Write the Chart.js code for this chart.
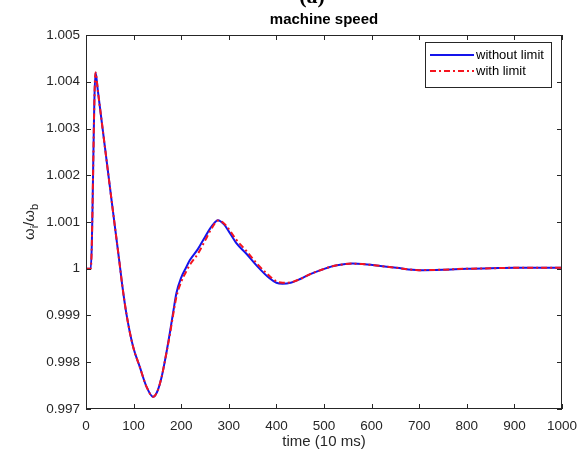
<!DOCTYPE html>
<html>
<head>
<meta charset="utf-8">
<script src="https://cdn.jsdelivr.net/npm/chart.js@4/dist/chart.umd.min.js"></script>
<style>
  html, body { margin: 0; padding: 0; background: #ffffff; }
  #wrap { width: 587px; height: 458px; position: relative; }
</style>
</head>
<body>
<div id="wrap"><canvas id="speedChart"></canvas></div>
<script>
// time axis in units of 10 ms
const timeSteps = [
  0, 10, 20, 25, 40, 55, 71, 76, 85, 99, 113, 127, 141, 150, 159, 168, 176,
  183, 190, 200, 210, 218, 235, 250, 265, 277, 290, 300, 315, 337, 360, 385,
  400, 413, 430, 450, 470, 490, 520, 545, 560, 580, 610, 652, 700, 750, 800,
  850, 900, 950, 1000,
];

const speedWithoutLimit = [
  1.0, 1.0, 1.0042, 1.0038, 1.00258, 1.00136, 1.00008, 0.99966, 0.99903,
  0.99833, 0.9979, 0.99748, 0.99726, 0.99738, 0.99769, 0.99815, 0.99862,
  0.99906, 0.99948, 0.99981, 1.00002, 1.00018, 1.00042, 1.00068, 1.00092,
  1.00104, 1.00095, 1.0008, 1.00056, 1.00032, 1.00005, 0.9998, 0.9997,
  0.99968, 0.9997, 0.99978, 0.99988, 0.99996, 1.00006, 1.0001, 1.00011,
  1.0001, 1.00007, 1.00002, 0.99997, 0.99998, 1.0, 1.00001, 1.00002, 1.00002,
  1.00002,
];

const speedWithLimit = [
  1.0, 1.0, 1.0042, 1.0038, 1.00258, 1.00136, 1.00008, 0.99966, 0.99903,
  0.99833, 0.9979, 0.99748, 0.99726, 0.99738, 0.99769, 0.99815, 0.99858,
  0.99901, 0.9994, 0.99972, 0.99993, 1.00008, 1.00032, 1.0006, 1.00088,
  1.00103, 1.00097, 1.00085, 1.00063, 1.00038, 1.0001, 0.99985, 0.99973,
  0.9997, 0.99971, 0.99978, 0.99988, 0.99996, 1.00006, 1.0001, 1.00011,
  1.0001, 1.00007, 1.00002, 0.99997, 0.99998, 1.0, 1.00001, 1.00002, 1.00002,
  1.00002,
];

const seriesNames = ["without limit", "with limit"];
const xTickValues = [0, 100, 200, 300, 400, 500, 600, 700, 800, 900, 1000];
const yTickValues = [
  0.997, 0.998, 0.999, 1.0, 1.001, 1.002, 1.003, 1.004, 1.005,
];

const axisColor = "#262626";
const tickFont = { family: "'Liberation Sans', Arial, sans-serif", size: 13.5 };

function toPoints(values) {
  return timeSteps.map((t, i) => ({ x: t, y: values[i] }));
}

const matlabFrame = {
  id: "matlabFrame",
  afterDraw(chart) {
    const { ctx, chartArea } = chart;
    const { left, right, top, bottom } = chartArea;
    const xScale = chart.scales.x;
    const yScale = chart.scales.y;

    ctx.save();
    ctx.strokeStyle = axisColor;
    ctx.lineWidth = 1;
    ctx.strokeRect(left + 0.5, top + 0.5, right - left - 1, bottom - top - 1);

    // inward ticks on all four sides
    const tickLen = 5;
    ctx.beginPath();
    xTickValues.forEach((v) => {
      const px = Math.round(xScale.getPixelForValue(v)) + 0.5;
      ctx.moveTo(px, bottom);
      ctx.lineTo(px, bottom - tickLen);
      ctx.moveTo(px, top);
      ctx.lineTo(px, top + tickLen);
    });
    yTickValues.forEach((v) => {
      const py = Math.round(yScale.getPixelForValue(v)) + 0.5;
      ctx.moveTo(left, py);
      ctx.lineTo(left + tickLen, py);
      ctx.moveTo(right, py);
      ctx.lineTo(right - tickLen, py);
    });
    ctx.stroke();

    // title and figure tag
    const midX = (left + right) / 2;
    ctx.fillStyle = "#000000";
    ctx.textAlign = "center";
    ctx.textBaseline = "alphabetic";
    ctx.font = "bold 22px 'Liberation Serif', serif";
    ctx.fillText("(a)", midX - 12, 3);
    ctx.font = "bold 15px 'Liberation Sans', Arial, sans-serif";
    ctx.fillText("machine speed", midX, 24);

    // x axis title
    ctx.fillStyle = axisColor;
    ctx.font = "15px 'Liberation Sans', Arial, sans-serif";
    ctx.textBaseline = "middle";
    ctx.fillText("time (10 ms)", midX, 442);

    // y axis title with subscripts
    ctx.save();
    ctx.translate(30, (top + bottom) / 2);
    ctx.rotate(-Math.PI / 2);
    const bigFont = "15px 'Liberation Sans', Arial, sans-serif";
    const smallFont = "11px 'Liberation Sans', Arial, sans-serif";
    const parts = [
      { text: "\u03c9", font: bigFont, dy: 0 },
      { text: "i", font: smallFont, dy: 5 },
      { text: "/\u03c9", font: bigFont, dy: 0 },
      { text: "b", font: smallFont, dy: 5 },
    ];
    let total = 0;
    parts.forEach((p) => {
      ctx.font = p.font;
      p.w = ctx.measureText(p.text).width;
      total += p.w;
    });
    let cx = -total / 2;
    ctx.textAlign = "left";
    ctx.textBaseline = "middle";
    parts.forEach((p) => {
      ctx.font = p.font;
      ctx.fillText(p.text, cx, p.dy);
      cx += p.w;
    });
    ctx.restore();

    // legend box
    const box = { x: 425, y: 42, w: 126, h: 45 };
    ctx.fillStyle = "#ffffff";
    ctx.fillRect(box.x, box.y, box.w, box.h);
    ctx.strokeStyle = axisColor;
    ctx.lineWidth = 1;
    ctx.strokeRect(box.x + 0.5, box.y + 0.5, box.w, box.h);

    const rows = [55, 71];
    chart.data.datasets.forEach((ds, i) => {
      const y = rows[i];
      ctx.beginPath();
      ctx.strokeStyle = ds.borderColor;
      ctx.lineWidth = ds.borderWidth;
      ctx.setLineDash(ds.borderDash || []);
      ctx.moveTo(430, y);
      ctx.lineTo(474, y);
      ctx.stroke();
      ctx.setLineDash([]);
      ctx.fillStyle = "#000000";
      ctx.font = "13px 'Liberation Sans', Arial, sans-serif";
      ctx.textAlign = "left";
      ctx.textBaseline = "middle";
      ctx.fillText(ds.label, 476, y);
    });
    ctx.restore();
  },
};

new Chart(document.getElementById("speedChart"), {
  type: "line",
  data: {
    datasets: [
      {
        label: seriesNames[0],
        data: toPoints(speedWithoutLimit),
        borderColor: "rgb(20,20,235)",
        borderWidth: 2,
        pointRadius: 0,
        cubicInterpolationMode: "monotone",
        order: 1,
      },
      {
        label: seriesNames[1],
        data: toPoints(speedWithLimit),
        borderColor: "rgb(245,20,30)",
        borderWidth: 2,
        borderDash: [6, 3, 2, 3],
        pointRadius: 0,
        cubicInterpolationMode: "monotone",
        order: 0,
      },
    ],
  },
  options: {
    responsive: true,
    maintainAspectRatio: false,
    animation: false,
    layout: { padding: { top: 35, right: 25, left: 0, bottom: 0 } },
    plugins: {
      legend: { display: false },
      tooltip: { enabled: false },
    },
    scales: {
      x: {
        type: "linear",
        min: 0,
        max: 1000,
        afterBuildTicks: (scale) => {
          scale.ticks = xTickValues.map((v) => ({ value: v }));
        },
        afterFit: (scale) => {
          scale.height = 49;
        },
        grid: { display: false, drawTicks: false },
        border: { display: false },
        ticks: {
          color: axisColor,
          font: tickFont,
          padding: 9,
          maxRotation: 0,
          autoSkip: false,
          callback: (v) => String(v),
        },
      },
      y: {
        type: "linear",
        min: 0.997,
        max: 1.005,
        afterBuildTicks: (scale) => {
          scale.ticks = yTickValues.map((v) => ({ value: v }));
        },
        afterFit: (scale) => {
          scale.width = 86;
        },
        grid: { display: false, drawTicks: false },
        border: { display: false },
        ticks: {
          color: axisColor,
          font: tickFont,
          padding: 6,
          autoSkip: false,
          callback: (v) => String(Number(v.toFixed(3))),
        },
      },
    },
  },
  plugins: [matlabFrame],
});
</script>
</body>
</html>
